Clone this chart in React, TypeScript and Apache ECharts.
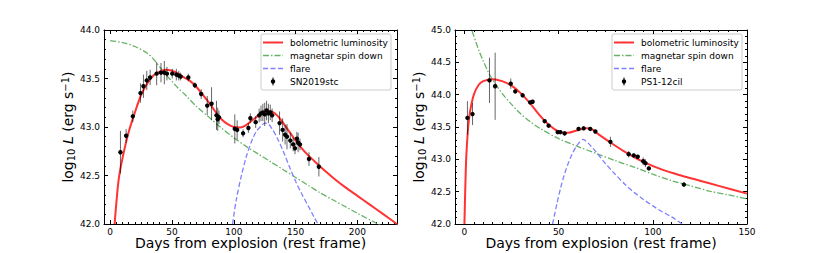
import React, { useEffect, useRef } from 'react';
import * as echarts from 'echarts';

// ---- SN2019stc (left panel) ----
// observations: [day, log10 L, error]
const sn2019stcObs: number[][] = [
  [8.3, 42.74, 0.22], [12.9, 42.91, 0.07], [18.3, 43.11, 0.06], [24.5, 43.35, 0.1],
  [26.9, 43.42, 0.12], [29.6, 43.48, 0.1], [32.3, 43.51, 0.08], [37.6, 43.55, 0.12],
  [41.1, 43.56, 0.1], [43.8, 43.56, 0.12], [45.9, 43.55, 0.07], [50.2, 43.55, 0.05],
  [53.5, 43.54, 0.06], [55.5, 43.53, 0.05], [57.0, 43.52, 0.04], [63.2, 43.51, 0.04],
  [68.5, 43.43, 0.03], [73.6, 43.34, 0.05], [78.5, 43.22, 0.1], [82.0, 43.24, 0.17],
  [86.0, 43.12, 0.15], [87.0, 43.08, 0.12], [88.0, 43.1, 0.07], [100.8, 42.98, 0.15],
  [102.7, 42.97, 0.1], [107.5, 42.935, 0.04], [111.8, 42.99, 0.05], [113.4, 43.09, 0.05],
  [117.7, 43.05, 0.06], [120.5, 43.12, 0.07], [122.0, 43.14, 0.08], [123.5, 43.15, 0.09],
  [125.0, 43.13, 0.12], [126.5, 43.17, 0.1], [128.0, 43.14, 0.1], [129.5, 43.15, 0.08],
  [131.0, 43.12, 0.07], [137.0, 43.04, 0.12], [139.5, 42.97, 0.12], [141.5, 42.92, 0.1],
  [143.0, 42.9, 0.13], [145.7, 42.86, 0.08], [148.0, 42.82, 0.07], [149.5, 42.78, 0.06],
  [151.0, 42.88, 0.07], [152.0, 42.84, 0.1], [153.5, 42.82, 0.06], [160.8, 42.67, 0.07],
  [168.8, 42.59, 0.1],
];
const sn2019stcBol: number[][] = [
  [3.6, 42.0], [5, 42.22], [7, 42.47], [10, 42.68], [15, 42.95], [20, 43.15], [25, 43.33],
  [30, 43.45], [35, 43.53], [40, 43.57], [45, 43.59], [50, 43.58], [55, 43.55], [60, 43.51],
  [65, 43.47], [70, 43.41], [75, 43.33], [80, 43.25], [85, 43.16], [90, 43.08], [95, 43.03],
  [100, 43.0], [105, 42.995], [110, 43.02], [115, 43.07], [120, 43.12], [125, 43.16],
  [130, 43.16], [135, 43.12], [140, 43.04], [145, 42.95], [150, 42.86], [155, 42.78],
  [160, 42.71], [165, 42.65], [170, 42.59], [180, 42.48], [190, 42.38], [200, 42.29],
  [210, 42.2], [220, 42.11], [232, 42.0],
];
const sn2019stcMag: number[][] = [
  [0, 43.89], [10, 43.87], [20, 43.83], [30, 43.76], [35, 43.7], [40, 43.62], [45, 43.54],
  [50, 43.47], [55, 43.4], [60, 43.34], [70, 43.21], [80, 43.1], [90, 42.99], [100, 42.89],
  [110, 42.8], [120, 42.72], [130, 42.64], [140, 42.56], [150, 42.48], [160, 42.4],
  [170, 42.32], [180, 42.25], [190, 42.18], [200, 42.11], [215, 42.01], [232, 41.9],
];
const sn2019stcFlare: number[][] = [
  [99, 42.0], [102, 42.25], [106, 42.49], [110, 42.69], [114, 42.84], [118, 42.95],
  [122, 43.01], [125, 43.04], [128, 43.03], [131, 42.98], [135, 42.89], [140, 42.75],
  [145, 42.59], [150, 42.44], [155, 42.31], [160, 42.19], [165, 42.07], [168, 42.0],
];

// ---- PS1-12cil (right panel) ----
const ps1Obs: number[][] = [
  [1.6, 43.64, 0.26], [4.3, 43.7, 0.17], [13.3, 44.22, 0.35], [16.3, 44.13, 0.52],
  [24.6, 44.17, 0.08], [27.0, 44.05, 0.03], [30.9, 43.99, 0.03], [34.9, 43.88, 0.03],
  [36.2, 43.89, 0.03], [42.6, 43.59, 0.03], [44.7, 43.52, 0.03], [49.5, 43.42, 0.02],
  [50.9, 43.42, 0.02], [53.2, 43.4, 0.03], [60.6, 43.47, 0.02], [63.3, 43.48, 0.02],
  [66.8, 43.47, 0.03], [69.5, 43.43, 0.02], [77.5, 43.27, 0.08], [87.2, 43.08, 0.05],
  [89.9, 43.06, 0.03], [92.0, 43.04, 0.03], [94.9, 42.97, 0.06], [96.1, 42.94, 0.06],
  [97.9, 42.86, 0.03], [116.5, 42.61, 0.03],
];
const ps1Bol: number[][] = [
  [0, 42.0], [0.5, 42.6], [1, 43.05], [2, 43.5], [3, 43.74], [5, 44.0], [7.5, 44.15],
  [10, 44.21], [15, 44.24], [20, 44.21], [25, 44.14], [30, 44.02], [35, 43.86], [40, 43.68],
  [45, 43.53], [50, 43.43], [55, 43.41], [60, 43.45], [65, 43.48], [68, 43.46], [72, 43.37],
  [77, 43.27], [85, 43.12], [95, 42.96], [105, 42.84], [115, 42.75], [125, 42.67],
  [135, 42.59], [150, 42.47],
];
const ps1Mag: number[][] = [
  [2, 45.15], [4, 44.99], [6, 44.82], [8, 44.66], [10, 44.52], [12.5, 44.36], [15, 44.23],
  [20, 44.02], [25, 43.85], [30, 43.7], [35, 43.58], [40, 43.48], [50, 43.32], [60, 43.2],
  [70, 43.09], [80, 42.98], [90, 42.88], [100, 42.77], [110, 42.67], [120, 42.59],
  [130, 42.51], [140, 42.45], [150, 42.39],
];
const ps1Flare: number[][] = [
  [46.8, 42.0], [49, 42.3], [51, 42.55], [53, 42.76], [55, 42.93], [57, 43.07], [59, 43.18],
  [61, 43.26], [63, 43.31], [65, 43.27], [67, 43.21], [70, 43.11], [75, 42.93], [80, 42.77],
  [85, 42.62], [90, 42.49], [95, 42.38], [100, 42.28], [105, 42.19], [110, 42.11],
  [115.6, 42.0],
];

const xTicksLeft = [0, 50, 100, 150, 200];
const xTicksRight = [0, 50, 100, 150];
const legendLabels = ['bolometric luminosity', 'magnetar spin down', 'flare'];
const objectNames = ['SN2019stc', 'PS1-12cil'];
const xAxisTitle = 'Days from explosion (rest frame)';

const FONT = 'DejaVu Sans';
const RED = '#ff3333';
const GREEN = 'rgb(102,178,102)';
const BLUE = 'rgb(128,128,255)';

const panels = [
  { obs: sn2019stcObs, bol: sn2019stcBol, mag: sn2019stcMag, flare: sn2019stcFlare,
    xMin: -5, xMax: 232, yMin: 42, yMax: 44, xTicks: xTicksLeft, name: objectNames[0],
    left: 104, width: 293, legendX: 261 },
  { obs: ps1Obs, bol: ps1Bol, mag: ps1Mag, flare: ps1Flare,
    xMin: -5, xMax: 150, yMin: 42, yMax: 45, xTicks: xTicksRight, name: objectNames[1],
    left: 455, width: 292, legendX: 612 },
];

const TOP = 30;
const HEIGHT = 194;

function buildOption() {
  const grid: any[] = [];
  const xAxis: any[] = [];
  const yAxis: any[] = [];
  const series: any[] = [];
  const graphic: any[] = [];

  panels.forEach((p, i) => {
    grid.push({ left: p.left, top: TOP, width: p.width, height: HEIGHT, outerBoundsMode: 'none', containLabel: false });
    const minorX: number[] = [];
    for (let v = Math.ceil(p.xMin / 5) * 5; v <= p.xMax; v += 5) minorX.push(v);

    ['bottom', 'top'].forEach((pos) => {
      xAxis.push({
        type: 'value', gridIndex: i, position: pos, min: p.xMin, max: p.xMax,
        axisLine: { show: true, onZero: false, lineStyle: { color: '#000', width: 1 } },
        axisTick: { show: true, inside: true, length: 4, customValues: p.xTicks, lineStyle: { color: '#000', width: 1 } },
        axisLabel: { show: pos === 'bottom', customValues: p.xTicks, margin: 3, fontFamily: FONT, fontSize: 9, color: '#000' },
        splitLine: { show: false },
        name: pos === 'bottom' ? xAxisTitle : '',
        nameLocation: 'middle', nameGap: 12, nameMoveOverlap: false,
        nameTextStyle: { fontFamily: FONT, fontSize: 14, color: '#000' },
      });
      xAxis.push({
        type: 'value', gridIndex: i, position: pos, min: p.xMin, max: p.xMax,
        axisLine: { show: false, onZero: false },
        axisTick: { show: true, inside: true, length: 2, customValues: minorX, lineStyle: { color: '#000', width: 1 } },
        axisLabel: { show: false },
        splitLine: { show: false },
      });
    });

    ['left', 'right'].forEach((pos) => {
      yAxis.push({
        type: 'value', gridIndex: i, position: pos, min: p.yMin, max: p.yMax, interval: 0.5,
        axisLine: { show: true, onZero: false, lineStyle: { color: '#000', width: 1 } },
        axisTick: { show: true, inside: true, length: 4, lineStyle: { color: '#000', width: 1 } },
        minorTick: { show: true, splitNumber: 5, length: 2, lineStyle: { color: '#000', width: 1 } },
        axisLabel: { show: pos === 'left', margin: 4, fontFamily: FONT, fontSize: 9, color: '#000',
          formatter: (v: number) => v.toFixed(1) },
        splitLine: { show: false },
        minorSplitLine: { show: false },
        name: pos === 'left' ? '{a|log}{sub|10}{a| }{i|L}{a| (erg s}{sup|\u22121}{a|)}' : '',
        nameLocation: 'middle', nameGap: 28, nameMoveOverlap: false,
        nameTextStyle: {
          fontFamily: FONT, fontSize: 14, color: '#000',
          rich: {
            a: { fontFamily: FONT, fontSize: 14, color: '#000' },
            i: { fontFamily: FONT, fontSize: 14, fontStyle: 'italic', color: '#000' },
            sub: { fontFamily: FONT, fontSize: 10, color: '#000', verticalAlign: 'bottom', padding: [6, 0, 0, 0] },
            sup: { fontFamily: FONT, fontSize: 10, color: '#000', verticalAlign: 'top', padding: [0, 0, 4, 0] },
          },
        },
      });
    });

    const xi = i * 4;
    const yi = i * 2;
    const lineBase = { type: 'line', xAxisIndex: xi, yAxisIndex: yi, showSymbol: false, symbol: 'none',
      smooth: 0.3, clip: true, silent: true };
    series.push({ ...lineBase, name: legendLabels[1], data: p.mag, z: 2,
      lineStyle: { color: GREEN, width: 1.3, type: [6, 2, 1.5, 2] } });
    series.push({ ...lineBase, name: legendLabels[2], data: p.flare, z: 2,
      lineStyle: { color: BLUE, width: 1.3, type: [5, 2.5] } });
    series.push({ ...lineBase, name: legendLabels[0], data: p.bol, z: 3,
      lineStyle: { color: RED, width: 2 } });
    series.push({
      type: 'custom', name: p.name, xAxisIndex: xi, yAxisIndex: yi, z: 4, silent: true,
      data: p.obs, encode: { x: 0, y: 1 },
      renderItem: (_params: any, api: any) => {
        const x = api.value(0), y = api.value(1), e = api.value(2);
        const c = api.coord([x, y]);
        const t = api.coord([x, y + e]);
        const b = api.coord([x, y - e]);
        return {
          type: 'group',
          children: [
            { type: 'line', shape: { x1: t[0], y1: t[1], x2: b[0], y2: b[1] },
              style: { stroke: 'rgba(0,0,0,0.6)', lineWidth: 1 } },
            { type: 'circle', shape: { cx: c[0], cy: c[1], r: 2.2 }, style: { fill: '#000' } },
          ],
        };
      },
    });

    // legend box
    const lx = p.legendX;
    const rows = [42.5, 55.5, 68.5, 81.5];
    const children: any[] = [
      { type: 'rect', shape: { x: lx, y: 34, width: 130, height: 56, r: 2 },
        style: { fill: 'rgba(255,255,255,0.8)', stroke: '#cccccc', lineWidth: 1 } },
      { type: 'line', shape: { x1: lx + 2, y1: rows[0], x2: lx + 22, y2: rows[0] },
        style: { stroke: RED, lineWidth: 2 } },
      { type: 'line', shape: { x1: lx + 2, y1: rows[1], x2: lx + 22, y2: rows[1] },
        style: { stroke: GREEN, lineWidth: 1.3, lineDash: [6, 2, 1.5, 2] } },
      { type: 'line', shape: { x1: lx + 2, y1: rows[2], x2: lx + 22, y2: rows[2] },
        style: { stroke: BLUE, lineWidth: 1.3, lineDash: [5, 2.5] } },
      { type: 'line', shape: { x1: lx + 12, y1: rows[3] - 4, x2: lx + 12, y2: rows[3] + 4 },
        style: { stroke: '#000', lineWidth: 1 } },
      { type: 'circle', shape: { cx: lx + 12, cy: rows[3], r: 2.2 }, style: { fill: '#000' } },
    ];
    const labels = [...legendLabels, p.name];
    labels.forEach((t, k) => {
      children.push({ type: 'text', x: lx + 29, y: rows[k],
        style: { text: t, fontFamily: FONT, fontSize: 9, fill: '#000', verticalAlign: 'middle', align: 'left' } });
    });
    graphic.push({ type: 'group', z: 100, children });
  });

  return { animation: false, backgroundColor: '#fff', grid, xAxis, yAxis, series, graphic };
}

export default function App() {
  const ref = useRef<HTMLDivElement>(null);
  useEffect(() => {
    if (!ref.current) return;
    const chart = echarts.init(ref.current, undefined, { renderer: 'svg' });
    chart.setOption(buildOption() as any);
    return () => chart.dispose();
  }, []);
  return <div ref={ref} style={{ position: 'absolute', left: 0, top: 0, width: 830, height: 253 }} />;
}
